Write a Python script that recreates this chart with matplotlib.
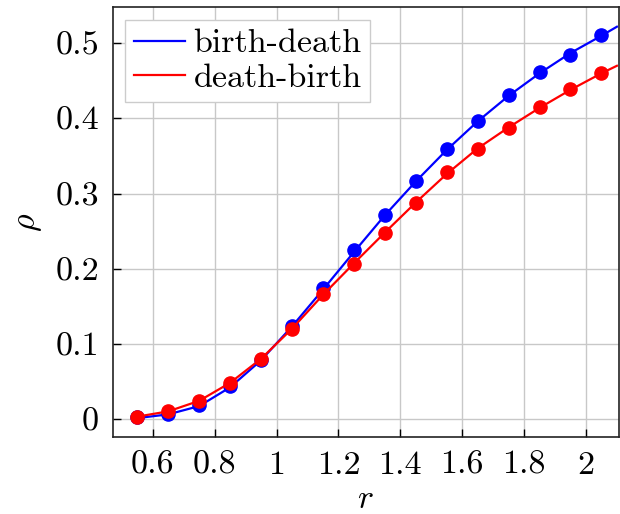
import matplotlib
matplotlib.use("Agg")
import matplotlib.pyplot as plt

# marker data (simulation points)
r_pts = [0.55, 0.65, 0.75, 0.85, 0.95, 1.05, 1.15, 1.25, 1.35, 1.45,
         1.55, 1.65, 1.75, 1.85, 1.95, 2.05]
bd_pts = [0.002, 0.007, 0.018, 0.044, 0.079, 0.123, 0.174, 0.225, 0.272, 0.316,
          0.359, 0.396, 0.431, 0.462, 0.485, 0.511]
db_pts = [0.003, 0.010, 0.024, 0.048, 0.080, 0.120, 0.166, 0.206, 0.248, 0.288,
          0.328, 0.359, 0.387, 0.415, 0.439, 0.461]

# curve data (line runs a bit past the last point)
r_line = [0.55, 0.65, 0.75, 0.85, 0.95, 1.05, 1.15, 1.25, 1.35, 1.45,
          1.55, 1.65, 1.75, 1.85, 1.95, 2.05, 2.10]
bd_line = [0.001, 0.006, 0.017, 0.042, 0.078, 0.123, 0.172, 0.222, 0.271, 0.316,
           0.358, 0.396, 0.430, 0.460, 0.487, 0.510, 0.522]
db_line = [0.003, 0.010, 0.024, 0.048, 0.080, 0.120, 0.165, 0.207, 0.248, 0.288,
           0.326, 0.360, 0.388, 0.414, 0.438, 0.460, 0.470]

xticks = [0.6, 0.8, 1.0, 1.2, 1.4, 1.6, 1.8, 2.0]
xticklabels = ["0.6", "0.8", "1", "1.2", "1.4", "1.6", "1.8", "2"]
yticks = [0, 0.1, 0.2, 0.3, 0.4, 0.5]
yticklabels = ["0", "0.1", "0.2", "0.3", "0.4", "0.5"]

plt.rcParams["font.family"] = "serif"
plt.rcParams["font.serif"] = ["cmr10", "DejaVu Serif"]
plt.rcParams["mathtext.fontset"] = "cm"
plt.rcParams["font.size"] = 24.5

fig = plt.figure(figsize=(6.2, 5.14), dpi=100)
ax = fig.add_axes([0.182, 0.150, 0.816, 0.836])

ax.plot(r_line, bd_line, color="blue", lw=1.6, label="birth-death", zorder=3)
ax.plot(r_line, db_line, color="red", lw=1.6, label="death-birth", zorder=4)
ax.plot(r_pts, bd_pts, "o", color="blue", ms=9.5, zorder=3)
ax.plot(r_pts, db_pts, "o", color="red", ms=9.5, zorder=4)

ax.set_xlim(0.471, 2.106)
ax.set_ylim(-0.024, 0.548)
ax.set_xticks(xticks)
ax.set_xticklabels(xticklabels)
ax.set_yticks(yticks)
ax.set_yticklabels(yticklabels)
ax.tick_params(direction="in", length=6, width=1, pad=10)
ax.grid(color="#c8c8c8", lw=1)
ax.set_axisbelow(True)
for s in ax.spines.values():
    s.set_linewidth(1.2)
    s.set_color("#222222")

ax.set_xlabel("$r$", labelpad=4)
ax.set_ylabel(r"$\rho$", labelpad=8)

leg = ax.legend(loc="upper left", bbox_to_anchor=(0.025, 0.97), handlelength=1.5,
                handletextpad=0.25, borderpad=0.25, labelspacing=0.15,
                borderaxespad=0.0, fancybox=False, framealpha=1, edgecolor="#cccccc")

fig.savefig("out.png", dpi=100)
